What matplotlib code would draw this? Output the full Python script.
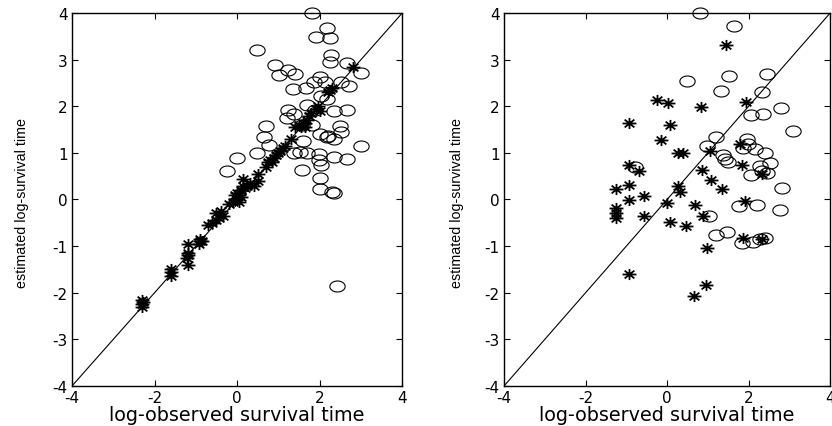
import numpy as np
import matplotlib
matplotlib.use("Agg")
import matplotlib.pyplot as plt
from matplotlib.path import Path

plt.rcParams["axes.unicode_minus"] = False

# ---------------- data ----------------
# left panel: circles (censored) and stars (observed)
left_circ_x = [1.82, 2.17, 1.92, 2.25, 0.47, 2.28, 2.26, 2.65, 0.91, 1.23, 1.01, 1.39, 2.99, 2.00,
               1.86, 2.14, 2.51, 1.36, 1.68, 2.71, 2.02, 2.18, 1.70, 1.23, 1.88, 2.34, 2.67, 1.37,
               1.21, 0.69, 2.49, 1.58, 1.82, 2.00, 2.51, 0.65, 2.18, 2.34, 1.60, 0.77, 3.00, 0.48,
               0.00, 1.37, 1.70, 1.98, 2.34, 2.65, 1.98, 2.02, 1.58, -0.24, 2.00, 2.00, 2.29, 2.34,
               2.42, 1.53, 2.20]
left_circ_y = [4.00, 3.68, 3.48, 3.46, 3.21, 3.10, 2.95, 2.92, 2.89, 2.78, 2.67, 2.69, 2.72, 2.62,
               2.53, 2.52, 2.53, 2.37, 2.39, 2.43, 2.21, 2.16, 2.03, 1.92, 1.92, 1.89, 1.92, 1.83,
               1.75, 1.58, 1.57, 1.60, 1.60, 1.40, 1.44, 1.33, 1.33, 1.30, 1.26, 1.17, 1.15, 1.00,
               0.89, 1.00, 0.99, 0.97, 0.92, 0.87, 0.85, 0.74, 0.64, 0.61, 0.47, 0.23, 0.16, 0.15,
               -1.85, 1.02, 1.36]
left_star_x = [-2.30, -2.30, -2.30, -2.28, -1.60, -1.60, -1.60, -1.20, -1.20, -1.20, -1.22, -1.20,
               -0.90, -0.90, -0.92, -0.85, -0.70, -0.60, -0.50, -0.50, -0.40, -0.35, -0.45, -0.20,
               -0.10, 0.00, 0.05, 0.10, 0.00, 0.15, 0.20, 0.25, 0.30, 0.40, 0.50, 0.50, 0.15, -0.05,
               0.05, 0.10, 0.70, 0.75, 0.80, 0.90, 1.00, 1.05, 1.10, 0.85, 0.95, 1.15, 1.30, 1.40,
               1.50, 1.55, 1.60, 1.65, 1.70, 1.75, 1.80, 1.90, 1.95, 2.00, 2.20, 2.25, 2.30, 2.80]
left_star_y = [-2.15, -2.25, -2.30, -2.20, -1.50, -1.55, -1.65, -0.95, -1.15, -1.20, -1.25, -1.40,
               -0.85, -0.90, -0.95, -0.88, -0.55, -0.50, -0.45, -0.30, -0.25, -0.35, -0.40, -0.10,
               -0.05, 0.00, 0.10, 0.20, 0.15, 0.30, 0.25, 0.30, 0.35, 0.30, 0.40, 0.55, 0.45, 0.10,
               -0.05, 0.05, 0.70, 0.80, 0.85, 0.90, 1.00, 1.05, 1.10, 0.80, 0.95, 1.15, 1.30, 1.55,
               1.60, 1.55, 1.65, 1.55, 1.70, 1.80, 1.85, 1.95, 2.00, 1.90, 2.30, 2.35, 2.40, 2.85]

# right panel
right_circ_x = [0.81, 1.65, 0.50, 1.53, 2.44, 1.32, 2.32, 2.80, 2.07, 2.36, 3.09, 1.20, 0.98, 1.95,
                1.99, 1.85, 2.15, 2.40, 1.38, 1.42, 1.50, 2.52, 2.28, 2.32, 2.07, 2.44, 2.83, 1.77,
                2.20, 2.76, 1.04, 1.20, 1.46, 1.83, 2.11, 2.28, 2.40, -0.79]
right_circ_y = [4.00, 3.72, 2.55, 2.64, 2.69, 2.32, 2.30, 1.96, 1.81, 1.84, 1.47, 1.35, 1.15, 1.29,
                1.18, 1.11, 1.09, 0.99, 0.95, 0.86, 0.80, 0.79, 0.72, 0.61, 0.52, 0.56, 0.25, -0.14,
                -0.11, -0.23, -0.36, -0.77, -0.70, -0.93, -0.91, -0.84, -0.82, 0.69]
right_star_x = [1.45, -0.24, 0.02, 0.83, 1.93, -0.93, 0.08, -0.14, 0.27, 0.39, 1.06, -0.93, -0.69,
                0.85, 1.08, 1.79, 1.83, -1.26, -0.93, 0.27, 0.31, 1.34, -0.57, -0.93, 0.00, 0.69,
                1.91, -1.26, -1.26, -1.26, -0.57, 0.88, 0.08, 0.47, 1.87, 2.32, 2.32, 0.98, -0.93,
                0.96, 0.65]
right_star_y = [3.32, 2.14, 2.08, 1.99, 2.10, 1.65, 1.60, 1.27, 0.99, 0.99, 1.03, 0.75, 0.62,
                0.63, 0.42, 1.20, 0.75, 0.23, 0.32, 0.30, 0.16, 0.22, 0.07, -0.02, -0.07, -0.12,
                -0.04, -0.18, -0.29, -0.39, -0.36, -0.36, -0.49, -0.57, -0.83, -0.84, 0.54, -1.04,
                -1.59, -1.83, -2.08]

ticks = [-4, -2, 0, 2, 4]
yticks = [-4, -3, -2, -1, 0, 1, 2, 3, 4]
xlabel = "log-observed survival time"
ylabel = "estimated log-survival time"

# ---------------- markers ----------------
t = np.linspace(0, 2 * np.pi, 60)
ellipse = Path(np.column_stack([np.cos(t), 0.72 * np.sin(t)]), closed=True)

sx, sy = 1.0, 0.8
ast_verts = [(-sx, 0), (sx, 0), (0, -sy), (0, sy),
             (-0.7 * sx, -0.7 * sy), (0.7 * sx, 0.7 * sy),
             (-0.7 * sx, 0.7 * sy), (0.7 * sx, -0.7 * sy)]
ast_codes = [Path.MOVETO, Path.LINETO] * 4
asterisk = Path(ast_verts, ast_codes)

# ---------------- figure ----------------
fig = plt.figure(figsize=(8.32, 4.27), dpi=100)
fig.patch.set_facecolor("white")

def setup(ax, lab_x):
    ax.set_xlim(-4, 4)
    ax.set_ylim(-4, 4)
    ax.plot([-4, 4], [-4, 4], color="black", lw=0.8, zorder=1)
    ax.set_xticks(ticks)
    ax.set_yticks(yticks)
    ax.tick_params(direction="in", length=4, width=0.8, top=True, right=True,
                   labelsize=11, pad=3, colors="black")
    for lbl in ax.get_xticklabels() + ax.get_yticklabels():
        lbl.set_family("DejaVu Sans")
    for s in ax.spines.values():
        s.set_linewidth(1.0)
        s.set_color("black")
    ax.set_xlabel(xlabel, fontsize=13.8, labelpad=0, family="DejaVu Sans")
    fig.text(lab_x, 0.525, ylabel, rotation=90, ha="center", va="center",
             fontsize=10.3, family="Liberation Sans")

axL = fig.add_axes([0.0865, 0.0937, 0.397, 0.8735])
axR = fig.add_axes([0.6058, 0.0937, 0.392, 0.8735])

for ax, cx, cy, stx, sty, lx in [(axL, left_circ_x, left_circ_y, left_star_x, left_star_y, 0.027),
                                  (axR, right_circ_x, right_circ_y, right_star_x, right_star_y, 0.549)]:
    setup(ax, lx)
    ax.plot(cx, cy, linestyle="none", marker=ellipse, markersize=11,
            markerfacecolor="none", markeredgecolor="black", markeredgewidth=0.8, zorder=3,
            clip_on=False)
    ax.plot(stx, sty, linestyle="none", marker=asterisk, markersize=10,
            markerfacecolor="none", markeredgecolor="black", markeredgewidth=1.3, zorder=3,
            clip_on=False)

fig.savefig("out.png", dpi=100, facecolor="white")
